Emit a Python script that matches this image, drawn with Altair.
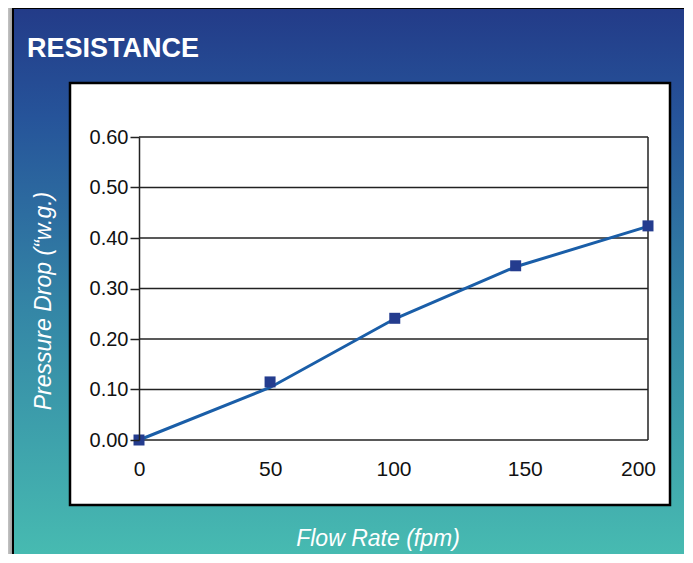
import altair as alt
import pandas as pd

# ---- data ----
flow_marker = [0, 51.5, 100.5, 148, 200]
drop_marker = [0.0, 0.115, 0.241, 0.345, 0.424]
flow_line = [0, 51.5, 100.5, 148, 200]
drop_line = [0.0, 0.104, 0.240, 0.343, 0.423]
y_ticks = [0.0, 0.1, 0.2, 0.3, 0.4, 0.5, 0.6]
x_ticks = [0, 50, 100, 150, 200]

title_text = "RESISTANCE"
y_title = "Pressure Drop (\u201cw.g.)"
x_title = "Flow Rate (fpm)"

markers = pd.DataFrame({"flow": flow_marker, "drop": drop_marker})
line_df = pd.DataFrame({"flow": flow_line, "drop": drop_line})
grid_df = pd.DataFrame({"drop": y_ticks})
one = alt.Data(values=[{"a": 1}])

W, H = 509, 303
SANS = "Liberation Sans, Arial, Helvetica, sans-serif"

xs = alt.Scale(domain=[0, 200], nice=False, zero=True)
ys = alt.Scale(domain=[0, 0.6], nice=False, zero=True)

x_axis = alt.Axis(
    values=x_ticks, title=None, domain=False, ticks=False, grid=False,
    labelFontSize=21, labelFont=SANS, labelColor="#111111",
    labelPadding=18, labelBaseline="top", labelFlush=False, zindex=1,
    labelOffset={"condition": [
        {"test": "datum.value == 200", "value": -10},
        {"test": "datum.value == 150", "value": 4},
        {"test": "datum.value == 50", "value": 4},
    ], "value": 0},
)
y_axis = alt.Axis(
    values=y_ticks, format=".2f", title=None, grid=False,
    domain=True, domainColor="#222222", domainWidth=1.5,
    ticks=True, tickSize=9, tickColor="#222222", tickWidth=1.5,
    labelFontSize=20, labelFont=SANS, labelColor="#111111",
    labelPadding=2, labelFlush=False, zindex=1)

panel_grad = alt.LinearGradient(
    gradient="linear", x1=0, x2=0, y1=0, y2=1,
    stops=[
        alt.GradientStop(offset=0.0, color="#233b88"),
        alt.GradientStop(offset=0.2, color="#26549a"),
        alt.GradientStop(offset=0.55, color="#3486a6"),
        alt.GradientStop(offset=1.0, color="#47bbb1"),
    ],
)
gray_grad = alt.LinearGradient(
    gradient="linear", x1=0, x2=1, y1=0, y2=0,
    stops=[
        alt.GradientStop(offset=0.0, color="#c4c4c4"),
        alt.GradientStop(offset=1.0, color="#a2a2a2"),
    ],
)

gray = alt.Chart(one).mark_rect(fill=gray_grad).encode(
    x=alt.value(-131), x2=alt.value(-127), y=alt.value(-129), y2=alt.value(430))
panel = alt.Chart(one).mark_rect(fill=panel_grad).encode(
    x=alt.value(-127), x2=alt.value(560), y=alt.value(-129), y2=alt.value(420))
left_border = alt.Chart(one).mark_rect(fill="#000000").encode(
    x=alt.value(-127), x2=alt.value(-125), y=alt.value(-129), y2=alt.value(430))
top_border = alt.Chart(one).mark_rect(fill="#000000").encode(
    x=alt.value(-127), x2=alt.value(560), y=alt.value(-129), y2=alt.value(-128))
white_box = alt.Chart(one).mark_rect(fill="#ffffff", stroke="#000000", strokeWidth=2.5).encode(
    x=alt.value(-69), x2=alt.value(531), y=alt.value(-54), y2=alt.value(368))

grid = alt.Chart(grid_df).mark_rule(color="#222222", strokeWidth=1.5).encode(
    y=alt.Y("drop:Q", scale=ys, axis=y_axis))
right_border = alt.Chart(one).mark_rule(color="#222222", strokeWidth=1.5).encode(
    x=alt.datum(200, scale=xs, axis=x_axis))

line = alt.Chart(line_df).mark_line(
    color="#1a5ea8", strokeWidth=3, interpolate="linear"
).encode(
    x=alt.X("flow:Q", scale=xs, axis=x_axis),
    y=alt.Y("drop:Q", scale=ys, axis=y_axis),
)

points = alt.Chart(markers).mark_point(
    shape="square", filled=True, size=121, color="#243c8e", opacity=1
).encode(x=alt.X("flow:Q", scale=xs, axis=x_axis),
         y=alt.Y("drop:Q", scale=ys, axis=y_axis))

title = alt.Chart(one).mark_text(
    text=title_text, font=SANS, fontSize=27, fontWeight="bold",
    color="#ffffff", align="left", baseline="alphabetic"
).encode(x=alt.value(-112), y=alt.value(-80))

ytitle = alt.Chart(one).mark_text(
    text=y_title, font=SANS, fontSize=23, fontStyle="italic",
    color="#ffffff", align="center", baseline="alphabetic", angle=270
).encode(x=alt.value(-88), y=alt.value(164))

xtitle = alt.Chart(one).mark_text(
    text=x_title, font=SANS, fontSize=23, fontStyle="italic",
    color="#ffffff", align="center", baseline="alphabetic"
).encode(x=alt.value(239), y=alt.value(409))

chart = alt.layer(
    gray, panel, left_border, top_border, white_box, grid, right_border,
    line, points, title, ytitle, xtitle
).properties(
    width=W, height=H,
    autosize=alt.AutoSizeParams(type="none"),
    padding={"left": 131, "top": 129, "right": 36, "bottom": 114},
).configure_view(stroke=None, fill=None)

chart.save("out.html", embed_options={"renderer": "svg", "actions": False})
